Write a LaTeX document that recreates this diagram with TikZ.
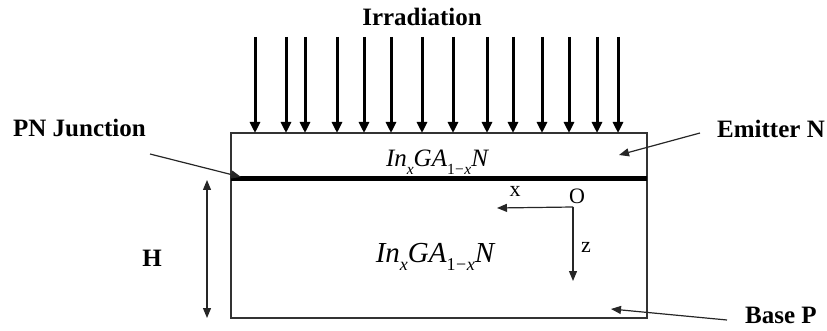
\documentclass[tikz,border=0pt]{standalone}
\usepackage{fontspec}
\setmainfont{Liberation Serif}
\usetikzlibrary{arrows.meta}
\tikzset{
  lbl/.style={inner sep=0pt, font=\bfseries\fontsize{25}{30}\selectfont},
  axlbl/.style={inner sep=0pt, font=\fontsize{22}{26}\selectfont},
  ray/.style={line width=3pt, -{Triangle[length=11pt,width=10pt]}},
  thin/.style={line width=1.2pt, draw=black!85, -{Triangle[length=10pt,width=8pt]}},
  formula/.style={inner sep=0pt, font=\itshape},
}
\newcommand{\chemform}[1]{\fontsize{#1}{#1}\selectfont In\raisebox{-0.3em}{\fontsize{0.62\dimexpr#1pt\relax}{1}\selectfont x}GA\raisebox{-0.3em}{\fontsize{0.62\dimexpr#1pt\relax}{1}\selectfont\upshape 1\kern0.03em−\kern0.03em\itshape x}N}
\begin{document}
\begin{tikzpicture}[x=1pt,y=-1pt]
\useasboundingbox (0,0) rectangle (827,331);
% box
\coordinate (bTL) at (231,133);
\coordinate (bBR) at (647,318);
\draw[line width=1.3pt, draw=black!80] (bTL) rectangle (bBR);
% junction
\coordinate (jL) at (231,179);
\coordinate (jR) at (647,179);
\draw[line width=5pt] (jL) -- (jR);
% irradiation
\node[lbl] (irr) at (422,17) {Irradiation};
\foreach \xx [count=\i] in {255,286,305,337,364,391,422,453,487,513,542,569,597,618}{
  \coordinate (rs\i) at (\xx,37);
  \coordinate (re\i) at (\xx,133);
  \draw[ray] (rs\i) -- (re\i);
}
% labels
\node[lbl] (pn) at (79.5,128) {PN Junction};
\node[lbl] (em) at (771,129) {Emitter N};
\node[lbl] (bp) at (781,315) {Base P};
\node[lbl] (hh) at (152,258) {H};
% label arrows
\coordinate (pnS) at (150,154);
\coordinate (pnE) at (241,177);
\draw[thin] (pnS) -- (pnE);
\coordinate (emS) at (700,133);
\coordinate (emE) at (619,155);
\draw[thin] (emS) -- (emE);
\coordinate (bpS) at (727,320);
\coordinate (bpE) at (611,309);
\draw[thin] (bpS) -- (bpE);
% H arrow
\coordinate (hT) at (207,180);
\coordinate (hB) at (207,318);
\draw[thin, {Triangle[length=10pt,width=8pt]}-{Triangle[length=10pt,width=8pt]}] (hT) -- (hB);
% formulas
\node[formula] (f1) at (437,162) {\chemform{25}};
\node[formula] (f2) at (435,257) {\chemform{29}};
% axes
\coordinate (org) at (573,207);
\coordinate (xe) at (497,208);
\coordinate (ze) at (573,281);
\draw[thin] (org) -- (xe);
\draw[thin] (org) -- (ze);
\node[axlbl] (oo) at (577,196) {O};
\node[axlbl] (xl) at (515,191) {x};
\node[axlbl] (zl) at (586,247) {z};
\end{tikzpicture}
\end{document}
